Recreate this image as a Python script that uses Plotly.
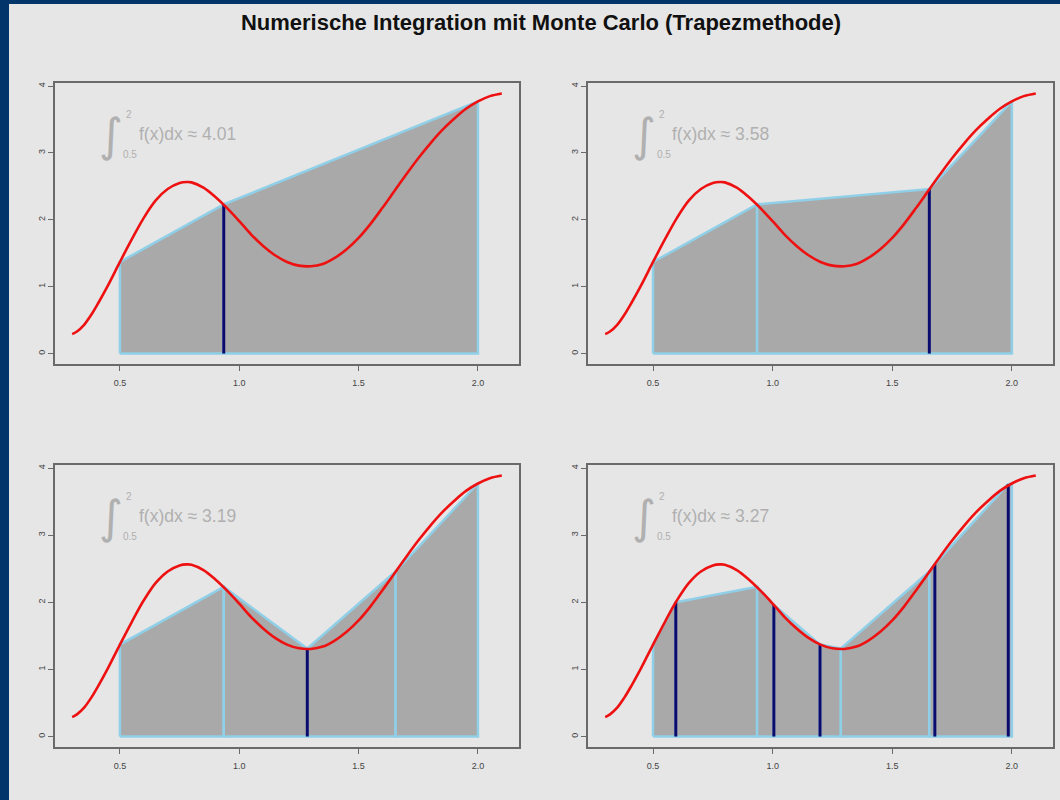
import plotly.graph_objects as go

# ---- data ----
curve_x = [0.30, 0.32, 0.35, 0.38, 0.41, 0.45, 0.50, 0.55, 0.60, 0.65, 0.70, 0.75, 0.78,
           0.80, 0.85, 0.90, 0.95, 1.00, 1.05, 1.10, 1.15, 1.20, 1.25, 1.30, 1.35,
           1.40, 1.45, 1.50, 1.55, 1.60, 1.65, 1.70, 1.75, 1.80, 1.85, 1.90, 1.95,
           2.00, 2.05, 2.10]
curve_y = [0.29, 0.33, 0.43, 0.58, 0.76, 1.02, 1.37, 1.71, 2.03, 2.29, 2.46, 2.55, 2.565,
           2.56, 2.48, 2.34, 2.17, 1.98, 1.78, 1.61, 1.47, 1.37, 1.315, 1.305, 1.34,
           1.43, 1.56, 1.73, 1.94, 2.18, 2.43, 2.68, 2.92, 3.14, 3.34, 3.51, 3.66,
           3.77, 3.85, 3.89]

nodes_x = [
    [0.5, 0.935, 2.0],
    [0.5, 0.935, 1.655, 2.0],
    [0.5, 0.935, 1.285, 1.655, 2.0],
    [0.5, 0.595, 0.935, 1.005, 1.198, 1.285, 1.655, 1.678, 1.985, 2.0],
]
nodes_y = [
    [1.37, 2.23, 3.77],
    [1.37, 2.23, 2.46, 3.77],
    [1.37, 2.23, 1.31, 2.46, 3.77],
    [1.37, 2.00, 2.23, 1.96, 1.37, 1.31, 2.46, 2.57, 3.76, 3.77],
]
new_x = [[0.935], [1.655], [1.285], [0.595, 1.005, 1.198, 1.678, 1.985]]
new_y = [[2.23], [2.46], [1.31], [2.00, 1.96, 1.37, 2.57, 3.76]]
estimates = ["4.01", "3.58", "3.19", "3.27"]
lower_lim, upper_lim = "0.5", "2"

x_ticks = [0.5, 1.0, 1.5, 2.0]
x_ticklabels = ["0.5", "1.0", "1.5", "2.0"]
y_ticks = [0, 1, 2, 3, 4]

title = "Numerische Integration mit Monte Carlo (Trapezmethode)"

# ---- styling ----
BG = "#e6e6e6"
BORDER = "#02366b"
FILL = "#a9a9a9"
EDGE = "#8fcfe8"
NAVY = "#0b0b6e"
RED = "#ee1111"
TXT = "#b0b0b0"
FONT = "Liberation Sans, Arial, sans-serif"

W, H = 1060, 800
boxes = [  # left, right, top, bottom in pixels
    (55, 519, 83, 364),
    (588, 1053, 83, 364),
    (55, 519, 465, 747),
    (588, 1053, 465, 747),
]

fig = go.Figure()

for i in range(4):
    ax = "" if i == 0 else str(i + 1)
    xr, yr = "x" + ax, "y" + ax
    nx, ny = nodes_x[i], nodes_y[i]
    # trapezoids
    for k in range(len(nx) - 1):
        fig.add_trace(go.Scatter(
            x=[nx[k], nx[k], nx[k + 1], nx[k + 1], nx[k]],
            y=[0, ny[k], ny[k + 1], 0, 0],
            fill="toself", fillcolor=FILL, mode="lines",
            line=dict(color=EDGE, width=2.5),
            hoverinfo="skip", showlegend=False, xaxis=xr, yaxis=yr))
    # new sample points
    lx, ly = [], []
    for xv, yv in zip(new_x[i], new_y[i]):
        lx += [xv, xv, None]
        ly += [0, yv, None]
    fig.add_trace(go.Scatter(x=lx, y=ly, mode="lines",
                             line=dict(color=NAVY, width=3),
                             hoverinfo="skip", showlegend=False, xaxis=xr, yaxis=yr))
    # function
    fig.add_trace(go.Scatter(x=curve_x, y=curve_y, mode="lines",
                             line=dict(color=RED, width=2.6, shape="spline", smoothing=1.0),
                             hoverinfo="skip", showlegend=False, xaxis=xr, yaxis=yr))

    l, r, t, b = boxes[i]
    axis_common = dict(showgrid=False, zeroline=False, showline=True, mirror=True,
                       linecolor="#6a6a6a", linewidth=1.5, ticks="outside",
                       ticklen=5, tickwidth=1, tickcolor="#6a6a6a",
                       tickfont=dict(family=FONT, size=9, color="#444444"))
    fig.layout["xaxis" + ax] = dict(domain=[l / W, r / W], range=[0.228, 2.172],
                                    tickvals=x_ticks, ticktext=x_ticklabels,
                                    ticklabelstandoff=4,
                                    anchor=yr, **axis_common)
    fig.layout["yaxis" + ax] = dict(domain=[1 - b / H, 1 - t / H], range=[-0.156, 4.046],
                                    tickvals=y_ticks, tickangle=-90,
                                    anchor=xr, **axis_common)

    # integral annotation
    fig.add_annotation(x=0.463, y=3.27, xref=xr, yref=yr, text="∫", showarrow=False,
                       font=dict(family="DejaVu Sans", size=46, color=TXT),
                       xanchor="center", yanchor="middle")
    fig.add_annotation(x=0.515, y=3.58, xref=xr, yref=yr, text=upper_lim, showarrow=False,
                       font=dict(family=FONT, size=10, color=TXT),
                       xanchor="left", yanchor="middle")
    fig.add_annotation(x=0.506, y=2.98, xref=xr, yref=yr, text=lower_lim, showarrow=False,
                       font=dict(family=FONT, size=10, color=TXT),
                       xanchor="left", yanchor="middle")
    fig.add_annotation(x=0.572, y=3.28, xref=xr, yref=yr,
                       text="f(x)dx ≈ " + estimates[i], showarrow=False,
                       font=dict(family=FONT, size=17.5, color=TXT),
                       xanchor="left", yanchor="middle")

fig.add_shape(type="rect", xref="paper", yref="paper", x0=9 / W, x1=1.0,
              y0=0, y1=1 - 4 / H, fillcolor=BG, line=dict(width=0), layer="below")

fig.update_layout(
    width=W, height=H,
    margin=dict(l=0, r=0, t=0, b=0),
    paper_bgcolor=BORDER, plot_bgcolor=BG,
    title=dict(text="<b>" + title + "</b>", x=541 / W, xanchor="center",
               y=1 - 22 / H, yanchor="middle",
               font=dict(family=FONT, size=22, color="#111111")),
)

fig.write_html("out.html",
               config={"displayModeBar": False},
               post_script="document.body.style.margin='0';"
                           "document.body.style.overflow='hidden';")
